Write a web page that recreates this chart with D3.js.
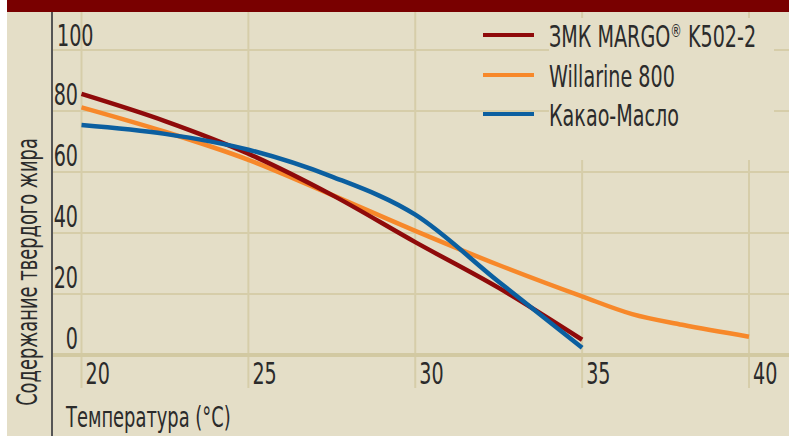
<!DOCTYPE html>
<html>
<head>
<meta charset="utf-8">
<script src="https://cdn.jsdelivr.net/npm/d3@7"></script>
<style>
  html, body { margin: 0; padding: 0; background: #fff; }
  text { font-family: "Liberation Sans Narrow", "DejaVu Sans Condensed", "Roboto", sans-serif; fill: #2b2b2b; }
</style>
</head>
<body>
<div id="chart"></div>
<script>
// temperatures (°C) and solid fat content (%)
const tempsShort = [20, 22.5, 25, 27.5, 30, 32.5, 35];
const tempsLong = [20, 22.5, 25, 27.5, 30, 32.5, 35, 36.5, 38, 40];
const margoK502 = [85.6, 76.7, 66, 52.5, 37, 22, 5];
const willarine800 = [81.2, 73.2, 64, 52.5, 40.7, 29.5, 19.2, 13.4, 9.9, 6];
const cacaoButter = [75.4, 72.5, 67.3, 58.5, 46, 24, 2.4];

const xTicks = [20, 25, 30, 35, 40];
const yTicks = [0, 20, 40, 60, 80, 100];

const seriesNames = ["ЗМК MARGO® K502-2", "Willarine 800", "Какао-Масло"];
const seriesColors = ["#8f0a0a", "#f7882a", "#0b5fa0"];

const width = 789, height = 436;
const bg = "#e4dec7", gridColor = "#d6cda9";

let svg = d3.select("#chart").append("svg")
  .attr("width", width)
  .attr("height", height);

// background + top band
svg.append("rect").attr("x", 7).attr("y", 0).attr("width", width - 7).attr("height", height).attr("fill", bg);
svg.append("rect").attr("x", 7).attr("y", 0).attr("width", width - 7).attr("height", 12).attr("fill", "#790000");

let x = d3.scaleLinear().domain([20, 40]).range([81.5, 749]);
let y = d3.scaleLinear().domain([0, 100]).range([355, 50]);

// vertical grid
svg.append("g").selectAll("line")
  .data(xTicks)
  .enter().append("line")
    .attr("x1", d => x(d)).attr("x2", d => x(d))
    .attr("y1", 12).attr("y2", 388)
    .attr("stroke", gridColor).attr("stroke-width", 2);

// horizontal grid
svg.append("g").selectAll("line")
  .data(yTicks)
  .enter().append("line")
    .attr("x1", 52).attr("x2", width)
    .attr("y1", d => y(d)).attr("y2", d => y(d))
    .attr("stroke", d => d === 0 ? "#d2c9a2" : gridColor)
    .attr("stroke-width", d => d === 0 ? 4 : 2);

// legend backdrop hides grid behind the labels
svg.append("rect").attr("x", 549).attr("y", 18).attr("width", 225).attr("height", 142).attr("fill", bg);

// y axis line
svg.append("line")
  .attr("x1", 52).attr("x2", 52).attr("y1", 12).attr("y2", height)
  .attr("stroke", "#555").attr("stroke-width", 2);

const sx = 0.71; // squeeze to mimic condensed face

function label(g, txt, px, py, size, anchor) {
  return g.append("text")
    .attr("transform", `translate(${px},${py}) scale(${sx},1)`)
    .attr("font-size", size)
    .attr("text-anchor", anchor || "start")
    .text(txt);
}

// y tick labels
yTicks.forEach(v => {
  if (v >= 100) label(svg, v, 57, y(v) - 4, 30, "start");
  else label(svg, v, 78, y(v) - 6, 30, "end");
});

// x tick labels
xTicks.forEach(v => label(svg, v, x(v) + 4, 384, 30, "start"));

// axis titles
label(svg, "Температура (°C)", 66, 427, 28, "start");
svg.append("text")
  .attr("transform", `translate(37,272) rotate(-90) scale(${sx},1)`)
  .attr("font-size", 28)
  .attr("text-anchor", "middle")
  .text("Содержание твердого жира");

// lines
let line = d3.line()
  .x(d => x(d[0]))
  .y(d => y(d[1]))
  .curve(d3.curveMonotoneX);

let series = [
  d3.zip(tempsShort, margoK502),
  d3.zip(tempsLong, willarine800),
  d3.zip(tempsShort, cacaoButter)
];

// draw order: orange, red, blue
[1, 0, 2].forEach(i => {
  svg.append("path")
    .attr("d", line(series[i]))
    .attr("fill", "none")
    .attr("stroke", seriesColors[i])
    .attr("stroke-width", 4.5);
});

// legend
let legendY = [35, 75, 114];
seriesNames.forEach((name, i) => {
  svg.append("line")
    .attr("x1", 483).attr("x2", 534)
    .attr("y1", legendY[i]).attr("y2", legendY[i])
    .attr("stroke", seriesColors[i]).attr("stroke-width", 4);
  let t = label(svg, "", 549, legendY[i] + 12, 30, "start");
  // superscript the ® mark
  let shift = 0;
  name.split(/(®)/).forEach(part => {
    if (!part) return;
    if (part === "®") {
      t.append("tspan").attr("font-size", 18).attr("dy", -10).text(part);
      shift = 10;
    } else {
      t.append("tspan").attr("dy", shift).text(part);
      shift = 0;
    }
  });
});
</script>
</body>
</html>
